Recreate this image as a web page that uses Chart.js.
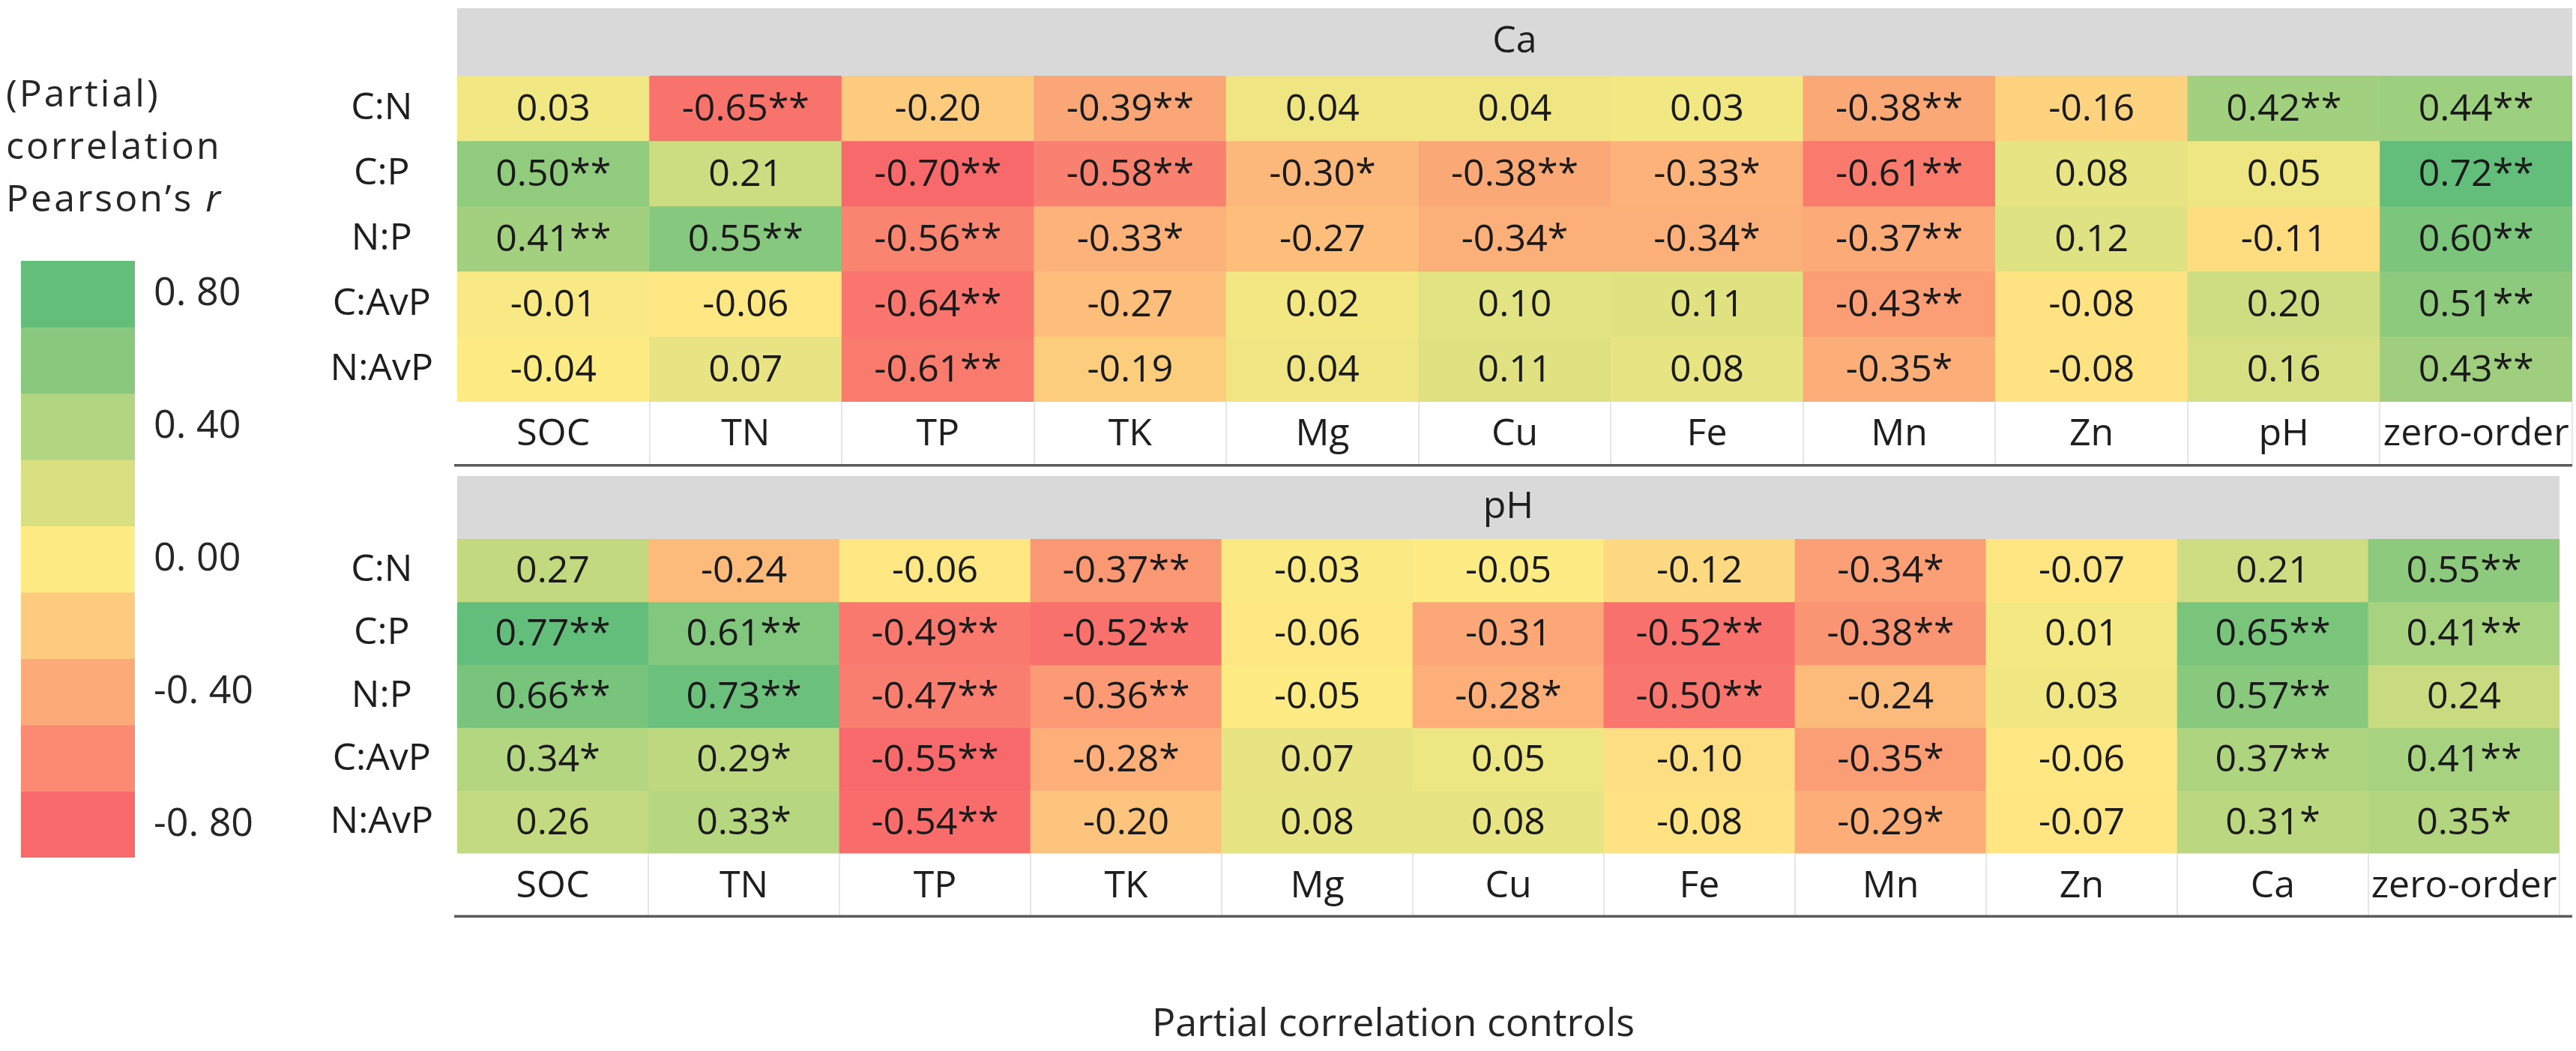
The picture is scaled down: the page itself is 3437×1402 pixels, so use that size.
<!DOCTYPE html>
<html>
<head>
<meta charset="utf-8">
<title>Partial correlation heatmap</title>
<script src="https://cdn.jsdelivr.net/npm/chart.js@4.4.1/dist/chart.umd.min.js"></script>
<style>
  html, body { margin: 0; padding: 0; background: #fff; }
  #page { position: relative; width: 3437px; height: 1402px; overflow: hidden; }
  canvas { position: absolute; }
  #legendChart { left: 0; top: 0; }
  #caChart { left: 303px; top: 0; }
  #phChart { left: 303px; top: 625px; }
</style>
</head>
<body>
<div id="page">
  <canvas id="legendChart" width="400" height="1402"></canvas>
  <canvas id="caChart" width="3134" height="625"></canvas>
  <canvas id="phChart" width="3134" height="777"></canvas>
</div>
<script>
// rows (response ratios) and column (control) labels
const rowLabels = ['C:N', 'C:P', 'N:P', 'C:AvP', 'N:AvP'];
const caColumns = ['SOC', 'TN', 'TP', 'TK', 'Mg', 'Cu', 'Fe', 'Mn', 'Zn', 'pH', 'zero-order'];
const phColumns = ['SOC', 'TN', 'TP', 'TK', 'Mg', 'Cu', 'Fe', 'Mn', 'Zn', 'Ca', 'zero-order'];

// Ca panel
const caValues = [
    [0.03, -0.65, -0.20, -0.39, 0.04, 0.04, 0.03, -0.38, -0.16, 0.42, 0.44],
    [0.50, 0.21, -0.70, -0.58, -0.30, -0.38, -0.33, -0.61, 0.08, 0.05, 0.72],
    [0.41, 0.55, -0.56, -0.33, -0.27, -0.34, -0.34, -0.37, 0.12, -0.11, 0.60],
    [-0.01, -0.06, -0.64, -0.27, 0.02, 0.10, 0.11, -0.43, -0.08, 0.20, 0.51],
    [-0.04, 0.07, -0.61, -0.19, 0.04, 0.11, 0.08, -0.35, -0.08, 0.16, 0.43]
];
const caStars = [
    ['', '**', '', '**', '', '', '', '**', '', '**', '**'],
    ['**', '', '**', '**', '*', '**', '*', '**', '', '', '**'],
    ['**', '**', '**', '*', '', '*', '*', '**', '', '', '**'],
    ['', '', '**', '', '', '', '', '**', '', '', '**'],
    ['', '', '**', '', '', '', '', '*', '', '', '**']
];

// pH panel
const phValues = [
    [0.27, -0.24, -0.06, -0.37, -0.03, -0.05, -0.12, -0.34, -0.07, 0.21, 0.55],
    [0.77, 0.61, -0.49, -0.52, -0.06, -0.31, -0.52, -0.38, 0.01, 0.65, 0.41],
    [0.66, 0.73, -0.47, -0.36, -0.05, -0.28, -0.50, -0.24, 0.03, 0.57, 0.24],
    [0.34, 0.29, -0.55, -0.28, 0.07, 0.05, -0.10, -0.35, -0.06, 0.37, 0.41],
    [0.26, 0.33, -0.54, -0.20, 0.08, 0.08, -0.08, -0.29, -0.07, 0.31, 0.35]
];
const phStars = [
    ['', '', '', '**', '', '', '', '*', '', '', '**'],
    ['**', '**', '**', '**', '', '', '**', '**', '', '**', '**'],
    ['**', '**', '**', '**', '', '*', '**', '', '', '**', ''],
    ['*', '*', '**', '*', '', '', '', '*', '', '**', '**'],
    ['', '*', '**', '', '', '', '', '*', '', '*', '*']
];

// colour key
const legendSteps = [0.8, 0.6, 0.4, 0.2, 0, -0.2, -0.4, -0.6, -0.8];
const legendTicks = ['0. 80', '0. 40', '0. 00', '-0. 40', '-0. 80'];

const FONT = "'Open Sans', sans-serif";
Chart.defaults.font.family = FONT;
Chart.defaults.color = '#1e1e1e';

// Excel style 3 colour scale
const RED = [248, 105, 107];
const YELLOW = [255, 235, 132];
const GREEN = [99, 190, 123];

function mix(a, b, t) {
    t = Math.max(0, Math.min(1, t));
    return 'rgb(' + a.map((c, i) => Math.round(c + (b[i] - c) * t)).join(',') + ')';
}

function scaleColor(v, lo, mid, hi) {
    if (v <= mid) return mix(RED, YELLOW, (v - lo) / (mid - lo));
    return mix(YELLOW, GREEN, (v - mid) / (hi - mid));
}

function median(arr) {
    const s = arr.slice().sort((a, b) => a - b);
    const m = Math.floor(s.length / 2);
    return s.length % 2 ? s[m] : (s[m - 1] + s[m]) / 2;
}

// grey header band behind the panel title + dark rule under the column labels
const panelDecor = {
    id: 'panelDecor',
    beforeDraw(chart) {
        const {ctx, chartArea} = chart;
        const tb = chart.titleBlock;
        ctx.save();
        ctx.fillStyle = '#d9d9d9';
        ctx.fillRect(chartArea.left, tb.top, chartArea.right - chartArea.left, chartArea.top - tb.top);
        ctx.restore();
    },
    afterDraw(chart) {
        const {ctx, chartArea} = chart;
        const xScale = chart.scales.x;
        ctx.save();
        ctx.fillStyle = '#5a5a5a';
        ctx.fillRect(chartArea.left - 4, xScale.bottom - 2, chart.width - 5 - (chartArea.left - 4), 3.5);
        ctx.restore();
    }
};

function makeHeatmap(canvasId, title, columns, values, stars, padding, xAxisHeight, extra) {
    const flat = values.flat();
    const lo = Math.min(...flat);
    const hi = Math.max(...flat);
    const mid = median(flat);

    const datasets = rowLabels.map((row, r) => ({
        label: row,
        data: columns.map(() => 1),
        backgroundColor: columns.map((c, ci) => scaleColor(values[r][ci], lo, mid, hi)),
        borderWidth: 0,
        barPercentage: 1,
        categoryPercentage: 1
    }));

    // value text in each cell
    const cellText = {
        id: 'cellText',
        afterDatasetsDraw(chart) {
            const ctx = chart.ctx;
            ctx.save();
            ctx.font = '50px ' + FONT;
            ctx.fillStyle = '#1a1a1a';
            ctx.textAlign = 'center';
            ctx.textBaseline = 'middle';
            chart.data.datasets.forEach((ds, r) => {
                chart.getDatasetMeta(r).data.forEach((bar, c) => {
                    const p = bar.getProps(['x', 'y', 'base'], true);
                    ctx.fillText(values[r][c].toFixed(2) + stars[r][c], p.x, (p.y + p.base) / 2 + 2);
                });
            });
            ctx.restore();
        }
    };

    return new Chart(document.getElementById(canvasId), {
        type: 'bar',
        data: { labels: columns, datasets: datasets },
        options: {
            responsive: false,
            devicePixelRatio: 1,
            animation: false,
            events: [],
            layout: { padding: padding },
            plugins: {
                legend: { display: false },
                tooltip: { enabled: false },
                title: {
                    display: true,
                    text: title,
                    fullSize: false,
                    color: '#1e1e1e',
                    font: { size: 50, weight: 'normal' },
                    padding: extra.titlePadding
                },
                subtitle: extra.subtitle || { display: false }
            },
            scales: {
                x: {
                    stacked: true,
                    border: { display: false },
                    grid: {
                        offset: true,
                        drawOnChartArea: false,
                        drawTicks: true,
                        tickLength: xAxisHeight,
                        // separators between label cells only, not at the outer edges
                        color: (ctx) => (ctx.index === 0 || ctx.index === columns.length) ? 'rgba(0,0,0,0)' : '#e6e6e6',
                        lineWidth: 2
                    },
                    ticks: {
                        padding: 14 - xAxisHeight,
                        color: '#1e1e1e',
                        font: { size: 50 },
                        autoSkip: false,
                        maxRotation: 0
                    },
                    afterFit(scale) { scale.height = xAxisHeight; }
                },
                y: {
                    stacked: true,
                    min: 0,
                    max: rowLabels.length,
                    reverse: true,
                    border: { display: false },
                    grid: { display: false, drawTicks: false },
                    ticks: {
                        autoSkip: false,
                        crossAlign: 'center',
                        padding: 32,
                        color: '#1e1e1e',
                        font: { size: 50 },
                        callback: (value, index) => rowLabels[index]
                    },
                    afterBuildTicks(scale) {
                        scale.ticks = rowLabels.map((r, i) => ({ value: i + 0.5 }));
                    },
                    afterFit(scale) { scale.width = 307; }
                }
            }
        },
        plugins: [panelDecor, cellText]
    });
}

makeHeatmap('caChart', 'Ca', caColumns, caValues, caStars,
    { top: 11, right: 5, bottom: 4, left: 0 }, 85,
    { titlePadding: { top: 15, bottom: 15 } });

makeHeatmap('phChart', 'pH', phColumns, phValues, phStars,
    { top: 10, right: 22, bottom: 0, left: 0 }, 84,
    {
        titlePadding: { top: 12, bottom: 12 },
        subtitle: {
            display: true,
            text: 'Partial correlation controls',
            position: 'bottom',
            color: '#262626',
            font: { size: 52, weight: 'normal' },
            padding: { top: 113, bottom: 4 }
        }
    });

// colour key with its title
const legendTitle = {
    id: 'legendTitle',
    afterDraw(chart) {
        const ctx = chart.ctx;
        ctx.save();
        ctx.fillStyle = '#262626';
        ctx.textBaseline = 'middle';
        ctx.textAlign = 'left';
        if ('letterSpacing' in ctx) ctx.letterSpacing = '3px';
        ctx.font = '50px ' + FONT;
        ctx.fillText('(Partial)', 8, 128);
        ctx.fillText('correlation', 8, 198);
        const lead = 'Pearson\u2019s ';
        ctx.fillText(lead, 8, 268);
        const w = ctx.measureText(lead).width;
        ctx.font = 'italic 50px ' + FONT;
        ctx.fillText('r', 8 + w, 268);
        ctx.restore();
    }
};

new Chart(document.getElementById('legendChart'), {
    type: 'bar',
    data: {
        labels: [''],
        datasets: legendSteps.map(v => ({
            label: String(v),
            data: [1],
            backgroundColor: scaleColor(v, -0.8, 0, 0.8),
            borderWidth: 0,
            barPercentage: 1,
            categoryPercentage: 1
        }))
    },
    options: {
        responsive: false,
        devicePixelRatio: 1,
        animation: false,
        events: [],
        layout: { padding: { top: 348, bottom: 258, left: 28, right: 0 } },
        plugins: { legend: { display: false }, tooltip: { enabled: false } },
        scales: {
            x: { stacked: true, display: false },
            y: {
                stacked: true,
                position: 'right',
                min: 0,
                max: legendSteps.length,
                reverse: true,
                border: { display: false },
                grid: { display: false, drawTicks: false },
                ticks: {
                    autoSkip: false,
                    padding: 25,
                    color: '#262626',
                    font: { size: 52 },
                    callback: (value, index) => legendTicks[index]
                },
                afterBuildTicks(scale) {
                    scale.ticks = legendTicks.map((t, i) => ({ value: i * 2 + 0.5 }));
                },
                afterFit(scale) { scale.width = 220; }
            }
        }
    },
    plugins: [legendTitle]
});
</script>
</body>
</html>
